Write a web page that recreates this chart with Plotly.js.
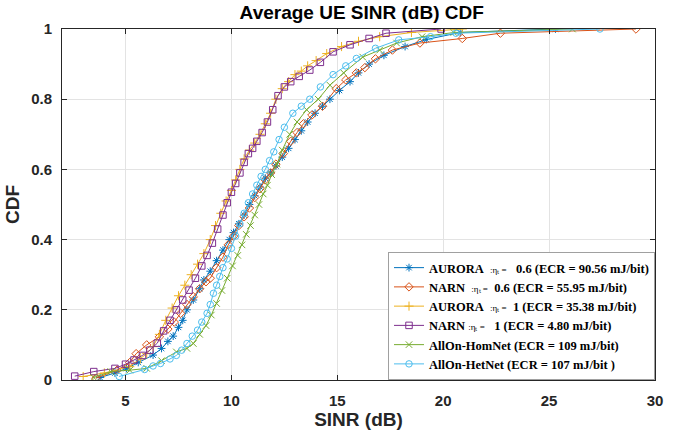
<!DOCTYPE html>
<html>
<head>
<meta charset="utf-8">
<script src="https://cdn.plot.ly/plotly-3.0.1.min.js"></script>
<style>
  html, body { margin: 0; padding: 0; background: #fff; }
  #chart { width: 689px; height: 435px; }
</style>
</head>
<body>
<div id="chart"></div>
<script>
// (SINR in dB, CDF)
var aurora06X = [3.8,4.5,5.05,5.6,6.3,6.7,7.0,7.25,7.5,7.7,7.9,8.2,8.5,8.7,9.0,9.3,9.6,9.9,10.1,10.35,10.6,10.85,11.1,11.35,11.6,11.85,12.1,12.4,12.7,13.0,13.3,13.6,13.95,14.3,14.65,15.1,15.6,16.0,16.5,17.2,18.2,19.2,20.8,25.3];
var aurora06Y = [0.007,0.02,0.033,0.05,0.071,0.09,0.11,0.125,0.15,0.17,0.2,0.228,0.26,0.285,0.31,0.34,0.37,0.4,0.42,0.445,0.47,0.5,0.525,0.55,0.575,0.59,0.61,0.635,0.66,0.685,0.71,0.735,0.76,0.78,0.8,0.825,0.85,0.875,0.9,0.925,0.95,0.97,0.99,1.0];

var narn06X = [3.6,4.6,5.2,5.5,6.0,6.6,7.0,7.3,7.6,7.9,8.2,8.5,8.8,9.0,9.3,9.6,9.85,10.1,10.35,10.6,10.85,11.1,11.35,11.6,11.85,12.1,12.45,12.8,13.1,13.4,13.8,14.3,14.95,15.4,15.9,16.3,16.8,17.6,18.9,20.9,22.7,29.1];
var narn06Y = [0.005,0.028,0.05,0.075,0.1,0.123,0.145,0.165,0.19,0.215,0.237,0.26,0.28,0.29,0.32,0.35,0.385,0.41,0.44,0.465,0.49,0.52,0.545,0.57,0.59,0.615,0.645,0.68,0.705,0.73,0.755,0.78,0.83,0.855,0.875,0.89,0.915,0.94,0.96,0.973,0.988,1.0];

var aurora1X = [3.0,4.0,5.2,5.7,6.0,6.3,6.6,6.9,7.2,7.5,7.8,8.1,8.4,8.7,9.0,9.25,9.5,9.75,10.0,10.2,10.4,10.6,10.85,11.1,11.35,11.6,11.85,12.1,12.4,12.7,13.0,13.3,13.6,14.0,14.5,15.2,16.0,17.0,18.5,20.9];
var aurora1Y = [0.01,0.02,0.038,0.06,0.075,0.095,0.13,0.17,0.205,0.24,0.27,0.3,0.33,0.36,0.4,0.44,0.475,0.51,0.54,0.57,0.6,0.63,0.655,0.675,0.7,0.73,0.76,0.8,0.83,0.85,0.87,0.88,0.895,0.91,0.93,0.95,0.965,0.978,0.99,1.0];

var narn1X = [2.6,3.5,4.5,5.0,5.4,5.8,6.15,6.5,6.8,7.1,7.4,7.7,8.0,8.3,8.6,8.85,9.1,9.35,9.6,9.8,10.0,10.2,10.4,10.6,10.8,11.0,11.2,11.45,11.7,11.95,12.2,12.5,12.8,13.2,13.7,14.2,14.8,15.6,16.5,17.3,19.9];
var narn1Y = [0.011,0.024,0.033,0.045,0.057,0.07,0.085,0.105,0.14,0.17,0.2,0.228,0.256,0.29,0.325,0.355,0.39,0.43,0.47,0.505,0.535,0.56,0.59,0.62,0.645,0.66,0.68,0.705,0.735,0.77,0.81,0.835,0.85,0.865,0.883,0.905,0.935,0.955,0.973,0.988,1.0];

var homNetX = [3.5,4.3,5.2,6.0,6.7,7.4,7.9,8.2,8.5,8.8,9.05,9.3,9.55,9.8,10.05,10.3,10.5,10.7,10.9,11.1,11.3,11.5,11.7,11.9,12.15,12.4,12.75,13.1,13.55,14.1,14.65,15.3,16.2,17.0,17.8,19.0,20.5,26.1];
var homNetY = [0.007,0.024,0.028,0.033,0.055,0.08,0.09,0.104,0.13,0.155,0.185,0.218,0.255,0.29,0.325,0.355,0.385,0.415,0.44,0.47,0.5,0.53,0.555,0.585,0.615,0.655,0.7,0.735,0.77,0.8,0.84,0.875,0.92,0.94,0.96,0.978,0.99,1.0];

var hetNetX = [4.7,5.9,6.3,6.65,7.1,7.4,7.65,7.9,8.15,8.4,8.6,8.85,9.0,9.15,9.3,9.45,9.6,9.8,10.0,10.2,10.4,10.6,10.8,11.0,11.2,11.4,11.6,11.8,12.0,12.25,12.5,12.9,13.3,13.7,14.2,14.8,15.4,15.9,16.8,17.9,19.4,20.6,27.4];
var hetNetY = [0.01,0.03,0.04,0.047,0.06,0.07,0.085,0.104,0.125,0.142,0.165,0.19,0.215,0.247,0.27,0.295,0.32,0.345,0.375,0.41,0.445,0.475,0.505,0.53,0.555,0.58,0.6,0.625,0.65,0.685,0.72,0.76,0.78,0.80,0.835,0.87,0.895,0.916,0.945,0.969,0.978,0.988,1.0];

var xTicks = [5, 10, 15, 20, 25, 30];
var yTicks = [0, 0.2, 0.4, 0.6, 0.8, 1];
var yTickText = ['0', '0.2', '0.4', '0.6', '0.8', '1'];

var nb = '\u00a0';
var eta = '<span style="font-size:9px;font-weight:normal">:ηₜ =</span>';

var names = [
  'AURORA' + nb + nb + eta + nb + nb + nb + '0.6 (ECR = 90.56 mJ/bit)',
  'NARN' + nb + nb + eta + nb + nb + '0.6 (ECR = 55.95 mJ/bit)',
  'AURORA' + nb + nb + eta + nb + nb + '1 (ECR = 35.38 mJ/bit)',
  'NARN' + nb + eta + nb + nb + nb + '1 (ECR = 4.80 mJ/bit)',
  'AllOn-HomNet (ECR = 109 mJ/bit)',
  'AllOn-HetNet (ECR = 107 mJ/bit )'
];

function curve(x, y, name, color, symbol){
  return {
    x: x, y: y, name: name,
    type: 'scatter', mode: 'lines+markers',
    line: {color: color, width: 1},
    marker: {symbol: symbol, size: 6.5, color: color, line: {color: color, width: 1}}
  };
}

var data = [
  curve(aurora06X, aurora06Y, names[0], '#0072BD', 'asterisk-open'),
  curve(narn06X, narn06Y, names[1], '#D95319', 'diamond-open'),
  curve(aurora1X, aurora1Y, names[2], '#EDB120', 'cross-thin-open'),
  curve(narn1X, narn1Y, names[3], '#7E2F8E', 'square-open'),
  curve(homNetX, homNetY, names[4], '#77AC30', 'x-thin-open'),
  curve(hetNetX, hetNetY, names[5], '#4DBEEE', 'circle-open')
];

var layout = {
  width: 689, height: 435,
  margin: {l: 62, r: 34, t: 29, b: 55},
  paper_bgcolor: '#fff', plot_bgcolor: '#fff',
  font: {family: 'Liberation Sans, Arial, sans-serif', color: '#262626'},
  title: {
    text: '<b>Average UE SINR (dB) CDF</b>',
    font: {size: 19, color: '#000'},
    x: 0.525, xanchor: 'center', y: 0.972, yanchor: 'middle'
  },
  showlegend: true,
  legend: {
    x: 1, xanchor: 'right', y: 0, yanchor: 'bottom',
    bgcolor: '#fff', bordercolor: '#a0a0a0', borderwidth: 1,
    font: {family: 'Liberation Serif, Times New Roman, serif', size: 12.5, color: '#000', weight: 'bold'},
    itemwidth: 30, tracegroupgap: 0
  },
  xaxis: {
    range: [2, 30], tickvals: xTicks,
    ticks: 'inside', ticklen: 5, tickcolor: '#262626',
    showline: true, linecolor: '#262626', linewidth: 1, mirror: 'allticks',
    showgrid: true, gridcolor: '#e3e3e3', zeroline: false,
    ticklabelstandoff: 7,
    tickfont: {size: 15, weight: 'bold', color: '#262626'},
    title: {text: '<b>SINR (dB)</b>', font: {size: 19, color: '#262626'}, standoff: 4}
  },
  yaxis: {
    range: [0, 1], tickvals: yTicks, ticktext: yTickText,
    ticks: 'inside', ticklen: 5, tickcolor: '#262626',
    showline: true, linecolor: '#262626', linewidth: 1, mirror: 'allticks',
    showgrid: true, gridcolor: '#e3e3e3', zeroline: false,
    ticklabelstandoff: 6,
    tickfont: {size: 15, weight: 'bold', color: '#262626'},
    title: {text: '<b>CDF</b>', font: {size: 19, color: '#262626'}, standoff: 6}
  }
};

Plotly.newPlot('chart', data, layout, {displayModeBar: false, staticPlot: true});
</script>
</body>
</html>
